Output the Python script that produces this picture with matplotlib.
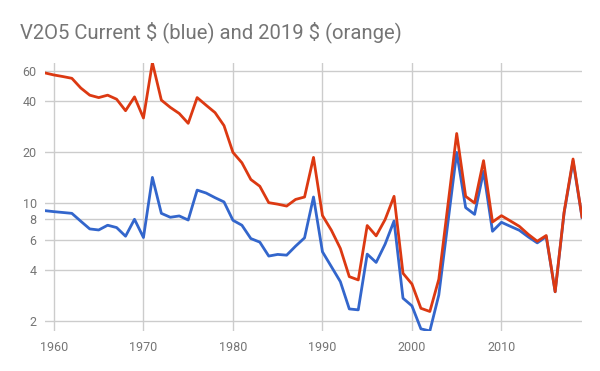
import numpy as np
import matplotlib
matplotlib.use("Agg")
import matplotlib.pyplot as plt
from matplotlib.ticker import FixedLocator, NullLocator

plt.rcParams['font.family'] = ['Roboto', 'DejaVu Sans']

years = list(range(1959, 2020))

# V2O5 price, current dollars
current_usd = [8.97, 8.85, 8.75, 8.65, 7.77, 7.0, 6.9, 7.36, 7.13, 6.34,
               7.98, 6.23, 14.1, 8.65, 8.2, 8.35, 7.9, 11.86, 11.4, 10.7,
               10.1, 7.87, 7.36, 6.14, 5.85, 4.84, 4.95, 4.9, 5.54, 6.2,
               10.8, 5.13, 4.19, 3.42, 2.36, 2.33, 4.97, 4.44, 5.69, 7.8,
               2.73, 2.46, 1.8, 1.75, 2.85, 7.5, 19.8, 9.35, 8.53, 15.3,
               6.78, 7.66, 7.25, 6.87, 6.28, 5.79, 6.3, 2.98, 8.7, 17.6,
               8.2]

# V2O5 price, 2019 dollars
usd_2019 = [58.3, 56.7, 55.5, 54.2, 47.5, 43.1, 41.7, 43.1, 40.8, 34.9,
            42.1, 31.6, 67.0, 40.3, 36.5, 33.6, 29.4, 41.7, 37.6, 34.0,
            28.5, 19.8, 17.2, 13.7, 12.5, 10.0, 9.8, 9.55, 10.45, 10.8,
            18.5, 8.4, 6.87, 5.37, 3.66, 3.5, 7.33, 6.37, 7.95, 10.9,
            3.83, 3.31, 2.38, 2.28, 3.53, 9.5, 25.6, 10.9, 9.95, 17.7,
            7.69, 8.38, 7.8, 7.25, 6.5, 5.92, 6.4, 2.98, 8.8, 18.1,
            8.23]

y_ticks = [2, 4, 6, 8, 10, 20, 40, 60]
x_ticks = [1960, 1970, 1980, 1990, 2000, 2010]

fig = plt.figure(figsize=(6, 3.71), dpi=100)
ax = fig.add_axes([0.075, 0.108, 0.895, 0.723])

ax.plot(years, current_usd, color='#3366cc', lw=2, solid_joinstyle='round', zorder=3)
ax.plot(years, usd_2019, color='#dc3912', lw=2, solid_joinstyle='round', zorder=4)

ax.set_yscale('log')
ax.set_xlim(1959, 2019)
ax.set_ylim(min(current_usd), max(usd_2019))

ax.yaxis.set_major_locator(FixedLocator(y_ticks))
ax.yaxis.set_minor_locator(NullLocator())
ax.set_yticklabels([str(t) for t in y_ticks])
ax.set_xticks(x_ticks)
ax.set_xticklabels([str(t) for t in x_ticks])

ax.grid(True, color='#cccccc', lw=1)
ax.set_axisbelow(True)
for s in ax.spines.values():
    s.set_visible(False)
ax.tick_params(length=0, labelsize=9, labelcolor='#757575')
ax.tick_params(axis='y', pad=6)
ax.tick_params(axis='x', pad=7)

fig.text(0.034, 0.914, r'V2O5 Current \$ (blue) and 2019 \$ (orange)',
         fontsize=14.6, color='#757575', va='center', ha='left')

fig.savefig('out.png', dpi=100)
